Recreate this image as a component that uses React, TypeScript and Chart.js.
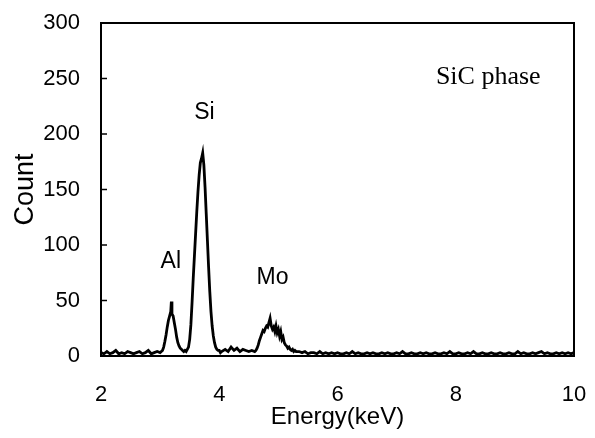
import React, { useEffect, useRef } from 'react';
import { Chart, registerables } from 'chart.js';

Chart.register(...registerables);

// ---- Data ----
const lowBgEnergy = [2.0, 2.05, 2.1, 2.15, 2.2, 2.25, 2.3, 2.35, 2.4, 2.45, 2.5, 2.55, 2.6, 2.65, 2.7, 2.75, 2.8, 2.85, 2.9, 2.95, 3.0];
const lowBgCount = [3, 2, 4, 2, 3, 5, 2, 3, 2, 4, 3, 2, 3, 4, 2, 3, 5, 2, 3, 4, 3];

const alPeakEnergy = [3.02, 3.04, 3.06, 3.08, 3.1, 3.12, 3.14, 3.16, 3.18, 3.19, 3.2, 3.22, 3.24, 3.26, 3.28, 3.3, 3.32, 3.34, 3.36, 3.38, 3.4, 3.42, 3.44, 3.46];
const alPeakCount = [4, 5, 8, 13, 19, 26, 32, 36, 40, 49, 38, 36, 30, 24, 17, 12, 9, 7, 6, 5, 4, 5, 4, 6];

const siPeakEnergy = [3.48, 3.5, 3.52, 3.54, 3.56, 3.58, 3.6, 3.62, 3.64, 3.66, 3.68, 3.7, 3.72, 3.74, 3.76, 3.78, 3.8, 3.82, 3.84, 3.86, 3.88, 3.9, 3.92, 3.94, 3.96, 3.98, 4.0, 4.02, 4.04];
const siPeakCount = [8, 15, 28, 48, 70, 90, 110, 130, 148, 163, 174, 178, 183, 172, 152, 128, 104, 80, 58, 40, 27, 18, 12, 8, 6, 5, 5, 3, 4];

const gapEnergy = [4.1, 4.15, 4.2, 4.25, 4.3, 4.35, 4.4, 4.45, 4.5, 4.55, 4.6];
const gapCount = [6, 4, 8, 5, 7, 4, 6, 5, 4, 5, 4];

const moPeakEnergy = [4.62, 4.64, 4.66, 4.68, 4.7, 4.72, 4.74, 4.76, 4.78, 4.8, 4.82, 4.84, 4.86, 4.88, 4.9, 4.92, 4.94, 4.96, 4.98, 5.0, 5.02, 5.04, 5.06, 5.08, 5.1, 5.12, 5.14, 5.16, 5.18, 5.2, 5.22, 5.24, 5.26, 5.28, 5.3];
const moPeakCount = [5, 7, 10, 14, 17, 20, 23, 22, 25, 27, 26, 30, 34, 27, 24, 26, 22, 27, 21, 24, 18, 22, 15, 17, 12, 10, 9, 7, 8, 6, 5, 6, 4, 5, 4];

const highBgEnergy = [5.35, 5.4, 5.45, 5.5, 5.55, 5.6, 5.65, 5.7, 5.75, 5.8, 5.85, 5.9, 5.95, 6.0, 6.05, 6.1, 6.15, 6.2, 6.25, 6.3, 6.35, 6.4, 6.45, 6.5, 6.55, 6.6, 6.65, 6.7, 6.75, 6.8, 6.85, 6.9, 6.95, 7.0, 7.05, 7.1, 7.15, 7.2, 7.25, 7.3, 7.35, 7.4, 7.45, 7.5, 7.55, 7.6, 7.65, 7.7, 7.75, 7.8, 7.85, 7.9, 7.95, 8.0, 8.05, 8.1, 8.15, 8.2, 8.25, 8.3, 8.35, 8.4, 8.45, 8.5, 8.55, 8.6, 8.65, 8.7, 8.75, 8.8, 8.85, 8.9, 8.95, 9.0, 9.05, 9.1, 9.15, 9.2, 9.25, 9.3, 9.35, 9.4, 9.45, 9.5, 9.55, 9.6, 9.65, 9.7, 9.75, 9.8, 9.85, 9.9, 9.95, 10.0];
const highBgCount = [4, 3, 4, 2, 3, 3, 2, 4, 2, 3, 2, 3, 2, 3, 2, 2, 3, 2, 4, 2, 3, 2, 2, 3, 2, 3, 2, 2, 3, 2, 3, 2, 2, 3, 2, 4, 2, 2, 3, 2, 2, 3, 2, 3, 2, 2, 3, 2, 2, 3, 2, 4, 2, 2, 3, 2, 2, 3, 2, 4, 2, 2, 3, 2, 2, 3, 2, 2, 3, 2, 2, 3, 2, 2, 4, 2, 3, 2, 2, 3, 2, 3, 4, 2, 3, 2, 2, 3, 2, 3, 2, 3, 2, 3];

const xTickValues = [2, 4, 6, 8, 10];
const yTickValues = [0, 50, 100, 150, 200, 250, 300];

// peak labels: [text, energy, count]
const peakLabels: [string, number, number][] = [
  ['Si', 3.75, 219],
  ['Al', 3.18, 85],
  ['Mo', 4.9, 71],
];
const phaseLabel: [string, number, number] = ['SiC phase', 8.55, 251];

const energy = [...lowBgEnergy, ...alPeakEnergy, ...siPeakEnergy, ...gapEnergy, ...moPeakEnergy, ...highBgEnergy];
const counts = [...lowBgCount, ...alPeakCount, ...siPeakCount, ...gapCount, ...moPeakCount, ...highBgCount];

const SANS = '"Liberation Sans", Arial, sans-serif';
const SERIF = '"Liberation Serif", "Times New Roman", serif';

const zeroPadding = (s: any) => {
  s.paddingTop = 0;
  s.paddingBottom = 0;
  s.paddingLeft = 0;
  s.paddingRight = 0;
};

const framePlugin = {
  id: 'frameAndLabels',
  afterDraw(chart: any) {
    const { ctx, chartArea, scales } = chart;
    const xs = scales.x;
    const ys = scales.y;
    ctx.save();
    ctx.strokeStyle = '#000';
    ctx.lineWidth = 2;
    ctx.strokeRect(chartArea.left, chartArea.top, chartArea.right - chartArea.left, chartArea.bottom - chartArea.top);
    // inward y ticks
    ctx.lineWidth = 1.5;
    for (const v of yTickValues) {
      const py = ys.getPixelForValue(v);
      ctx.beginPath();
      ctx.moveTo(chartArea.left, py);
      ctx.lineTo(chartArea.left + 6, py);
      ctx.stroke();
    }
    ctx.fillStyle = '#000';
    ctx.textAlign = 'center';
    ctx.textBaseline = 'middle';
    ctx.font = `23px ${SANS}`;
    for (const [t, e, c] of peakLabels) {
      ctx.fillText(t, xs.getPixelForValue(e), ys.getPixelForValue(c));
    }
    ctx.font = `26px ${SERIF}`;
    ctx.fillText(phaseLabel[0], xs.getPixelForValue(phaseLabel[1]), ys.getPixelForValue(phaseLabel[2]));
    ctx.restore();
  },
};

export default function App() {
  const ref = useRef<HTMLCanvasElement | null>(null);

  useEffect(() => {
    document.body.style.margin = '0';
    const canvas = ref.current;
    if (!canvas) return;
    const chart = new Chart(canvas, {
      type: 'line',
      data: {
        datasets: [
          {
            data: energy.map((e, i) => ({ x: e, y: counts[i] })),
            borderColor: '#000',
            borderWidth: 2.8,
            pointRadius: 0,
            tension: 0,
            fill: false,
          },
        ],
      },
      options: {
        animation: false,
        responsive: false,
        maintainAspectRatio: false,
        layout: { padding: { left: 0, top: 23, right: 21, bottom: 0 } },
        plugins: {
          legend: { display: false },
          tooltip: { enabled: false },
        },
        scales: {
          x: {
            type: 'linear',
            min: 2,
            max: 10,
            afterFit: (s: any) => {
              s.height = 82;
              zeroPadding(s);
            },
            afterBuildTicks: (s: any) => {
              s.ticks = xTickValues.map((v) => ({ value: v }));
            },
            grid: { display: false, drawTicks: false },
            border: { display: false },
            ticks: {
              color: '#000',
              font: { family: SANS, size: 22 },
              padding: 26,
              maxRotation: 0,
            },
            title: {
              display: true,
              text: 'Energy(keV)',
              color: '#000',
              font: { family: SANS, size: 24, lineHeight: 1 },
              padding: { top: 0, bottom: 9 },
            },
          },
          y: {
            type: 'linear',
            min: 0,
            max: 300,
            afterFit: (s: any) => {
              s.width = 101;
              zeroPadding(s);
            },
            afterBuildTicks: (s: any) => {
              s.ticks = yTickValues.map((v) => ({ value: v }));
            },
            grid: { display: false, drawTicks: false },
            border: { display: false },
            ticks: {
              color: '#000',
              font: { family: SANS, size: 22 },
              padding: 21,
            },
            title: {
              display: true,
              text: 'Count',
              color: '#000',
              font: { family: SANS, size: 27, lineHeight: 1 },
              padding: { top: 12, bottom: 0 },
            },
          },
        },
      },
      plugins: [framePlugin],
    });
    return () => chart.destroy();
  }, []);

  return (
    <div style={{ width: 595, height: 438, background: '#fff' }}>
      <canvas ref={ref} width={595} height={438} style={{ display: 'block' }} />
    </div>
  );
}
